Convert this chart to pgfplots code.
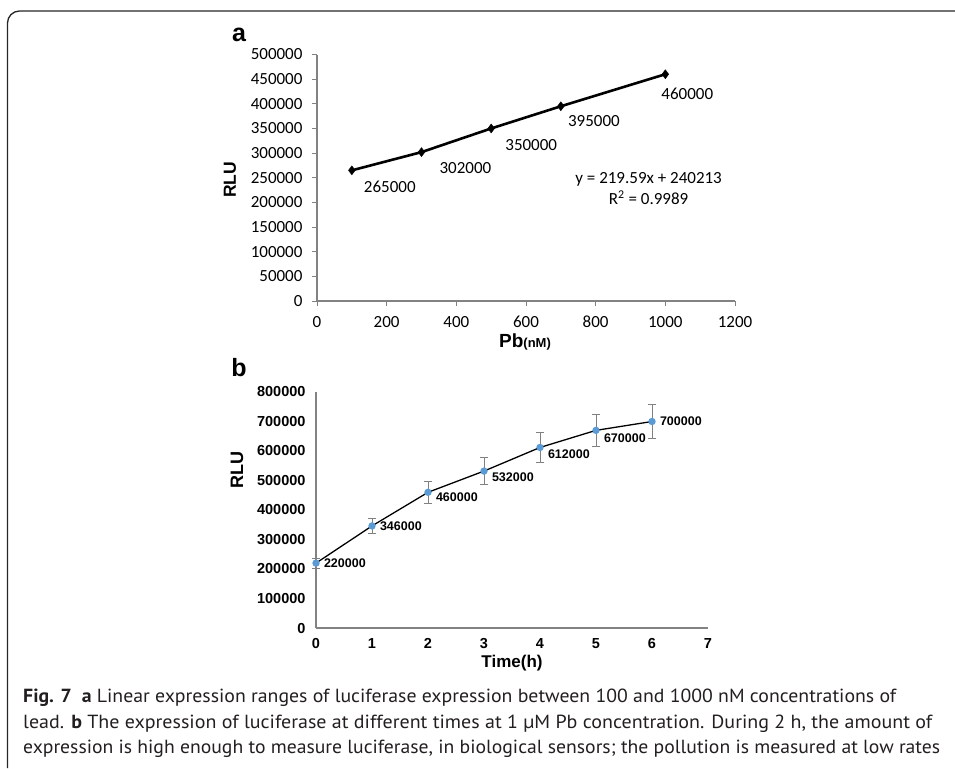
\documentclass[border=0pt]{standalone}
\usepackage{fontspec}
\setmainfont{Liberation Sans}
\newfontfamily\carlito{Carlito}
\newfontfamily\ptsans{PT Sans}
\usepackage{pgfplots}
\pgfplotsset{compat=1.18}
\definecolor{axisgray}{RGB}{130,130,130}
\definecolor{ptblue}{RGB}{91,155,213}
\definecolor{captext}{RGB}{35,31,32}
\begin{document}
\begin{tikzpicture}
\useasboundingbox (0pt,0pt) rectangle (955pt,-768pt);
% frame
\draw[line width=1.3pt, black!85] (7.5pt,-768pt) -- (7.5pt,-23pt) arc[start angle=180,end angle=90,radius=12pt] -- (955pt,-11pt);

% ---------------- panel a ----------------
\begin{axis}[at={(317pt,-301pt)}, anchor=south west, scale only axis,
  width=418pt, height=246.5pt,
  xmin=0, xmax=1200, ymin=0, ymax=500000,
  axis lines*=left,
  axis line style={draw=axisgray, line width=1.2pt},
  xtick={0,200,...,1200}, ytick={0,50000,...,500000},
  tick style={draw=axisgray, line width=1pt},
  tick align=outside, major tick length=5pt,
  scaled y ticks=false, scaled x ticks=false,
  tick label style={font=\carlito\fontsize{17}{17}\selectfont, text=black},
  yticklabel style={xshift=-6pt},
  xticklabel style={yshift=-6pt, text height=12pt, text depth=0pt},
  clip=false,
  /pgf/number format/.cd, fixed, precision=0, 1000 sep={}, assume math mode=true]
\addplot[black, line width=2.6pt, mark=diamond*, mark size=4.5pt, mark options={line width=0.4pt}]
  coordinates {(100,265000) (300,302000) (500,350000) (700,395000) (1000,460000)};
\begin{scope}[font=\carlito\fontsize{17}{17}\selectfont]
\node at (axis cs:209,232500) {265000};
\node at (axis cs:426,269500) {302000};
\node at (axis cs:615,315500) {350000};
\node at (axis cs:795,364500) {395000};
\node at (axis cs:1063,419500) {460000};
\node at (axis cs:952,247400) {y = 219.59x + 240213};
\node at (axis cs:952,208900) {R\textsuperscript{2} = 0.9989};
\end{scope}
\end{axis}
\node[font=\bfseries\fontsize{25}{25}\selectfont] at (239pt,-35pt) {a};
\node[rotate=90, font=\bfseries\fontsize{17.5}{17.5}\selectfont] at (230pt,-180pt) {RLU};
\node[font=\bfseries\fontsize{19}{19}\selectfont] at (525pt,-342pt) {Pb{\fontsize{13}{13}\selectfont(nM)}};

% ---------------- panel b ----------------
\begin{axis}[at={(316pt,-628pt)}, anchor=south west, scale only axis,
  width=392pt, height=236pt,
  xmin=0, xmax=7, ymin=0, ymax=800000,
  axis lines*=left,
  axis line style={draw=axisgray, line width=1.2pt},
  xtick={0,1,...,7}, ytick={0,100000,...,800000},
  major tick length=0pt,
  scaled y ticks=false, scaled x ticks=false,
  tick label style={font=\bfseries\fontsize{14.5}{14.5}\selectfont, text=black},
  yticklabel style={xshift=-7pt},
  xticklabel style={yshift=-6pt, text height=11pt, text depth=0pt},
  clip=false,
  /pgf/number format/.cd, fixed, precision=0, 1000 sep={}, assume math mode=true]
\addplot[black, line width=1.3pt, mark=*, mark size=3pt,
  mark options={fill=ptblue, draw=ptblue},
  error bars/.cd, y dir=both, y explicit,
  error bar style={draw=gray, line width=0.9pt},
  error mark options={rotate=90, draw=gray, mark size=4pt, line width=0.9pt}]
  coordinates {
  (0,220000) +- (0,17000)
  (1,346000) +- (0,27000)
  (2,460000) +- (0,38000)
  (3,532000) +- (0,45000)
  (4,612000) +- (0,51000)
  (5,670000) +- (0,55000)
  (6,700000) +- (0,58000)};
\begin{scope}[font=\bfseries\fontsize{12.5}{12.5}\selectfont, anchor=west]
\node at (axis cs:0.08,220000) {220000};
\node at (axis cs:1.08,346000) {346000};
\node at (axis cs:2.08,442000) {460000};
\node at (axis cs:3.08,512000) {532000};
\node at (axis cs:4.08,590000) {612000};
\node at (axis cs:5.08,643000) {670000};
\node at (axis cs:6.08,700000) {700000};
\end{scope}
\end{axis}
\node[font=\bfseries\fontsize{25}{25}\selectfont] at (239pt,-368pt) {b};
\node[rotate=90, font=\bfseries\fontsize{18}{18}\selectfont] at (237pt,-470pt) {RLU};
\node[font=\bfseries\fontsize{17}{17}\selectfont] at (512pt,-663pt) {Time(h)};

% ---------------- caption ----------------
\begin{scope}[font=\ptsans\fontsize{19}{19}\selectfont, text=captext, inner sep=0pt]
\node[anchor=base west] at (23pt,-702pt) {\resizebox{873pt}{\height}{\textbf{Fig. 7}\enspace\textbf{a} Linear expression ranges of luciferase expression between 100 and 1000 nM concentrations of}};
\node[anchor=base west] at (23pt,-728pt) {\resizebox{909pt}{\height}{lead. \textbf{b} The expression of luciferase at different times at 1 µM Pb concentration. During 2 h, the amount of}};
\node[anchor=base west] at (23pt,-753pt) {\resizebox{917pt}{\height}{expression is high enough to measure luciferase, in biological sensors; the pollution is measured at low rates}};
\end{scope}
\end{tikzpicture}
\end{document}
